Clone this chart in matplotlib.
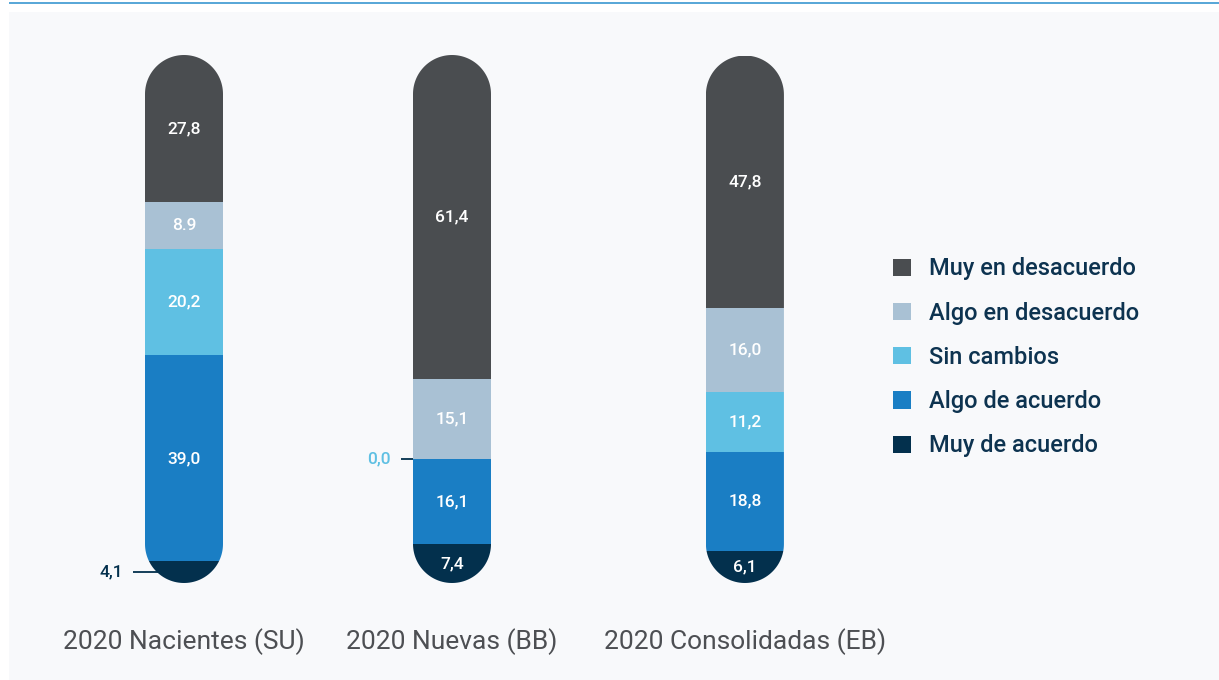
import numpy as np
import matplotlib.pyplot as plt
from matplotlib.patches import PathPatch, Rectangle, Patch
from matplotlib.path import Path

plt.rcParams['font.family'] = ['Roboto', 'DejaVu Sans']

categories = ["2020 Nacientes (SU)", "2020 Nuevas (BB)", "2020 Consolidadas (EB)"]
series = ["Muy de acuerdo", "Algo de acuerdo", "Sin cambios",
          "Algo en desacuerdo", "Muy en desacuerdo"]
muy_de_acuerdo = [4.1, 7.4, 6.1]
algo_de_acuerdo = [39.0, 16.1, 18.8]
sin_cambios = [20.2, 0.0, 11.2]
algo_en_desacuerdo = [8.9, 15.1, 16.0]
muy_en_desacuerdo = [27.8, 61.4, 47.8]

colors = ["#03304d", "#1a7ec4", "#5fc0e3", "#a9c1d4", "#4a4d50"]
values = [muy_de_acuerdo, algo_de_acuerdo, sin_cambios, algo_en_desacuerdo, muy_en_desacuerdo]

# one label in the source keeps a decimal point instead of a comma
label_override = {(3, 0): "8.9"}

W, H = 1219, 680
fig = plt.figure(figsize=(W / 100, H / 100), dpi=100)
fig.patch.set_facecolor("white")
fig.patches.append(Rectangle((9 / W, 0), 1 - 9 / W, 1 - 12 / H, transform=fig.transFigure,
                             facecolor="#f8f9fb", edgecolor="none", zorder=-10))
fig.patches.append(Rectangle((9 / W, 1 - 4 / H), 1 - 9 / W, 2 / H, transform=fig.transFigure,
                             facecolor="#5aa8d8", edgecolor="none", zorder=-9))

# axes placed so 0..100 spans the bar height
ax_l, ax_r = 100, 850
ax_b, ax_t = 583, 55
ax = fig.add_axes([ax_l / W, (H - ax_b) / H, (ax_r - ax_l) / W, (ax_b - ax_t) / H])
ax.set_facecolor("none")
unit = 268.0
xpos = [0, 1, 2.093]
ax.set_xlim((ax_l - 184) / unit, (ax_r - 184) / unit)
ax.set_ylim(0, 100)
ax.axis("off")

width = 78 / unit
px_y = (ax_b - ax_t) / 100.0
rx = width / 2
ry = 39 / px_y


def pill_path(x, top):
    # capsule outline with true circular ends
    t1 = np.linspace(np.pi, 2 * np.pi, 60)
    t2 = np.linspace(0, np.pi, 60)
    xs = np.concatenate([x + rx * np.cos(t1), x + rx * np.cos(t2)])
    ys = np.concatenate([ry + ry * np.sin(t1), top - ry + ry * np.sin(t2)])
    verts = np.column_stack([np.append(xs, xs[0]), np.append(ys, ys[0])])
    codes = [Path.MOVETO] + [Path.LINETO] * (len(verts) - 2) + [Path.CLOSEPOLY]
    return Path(verts, codes)


lab_fs = 12.5
for i, x in enumerate(xpos):
    total = sum(v[i] for v in values)
    pill = PathPatch(pill_path(x, total), transform=ax.transData)
    edge = x - width / 2
    bottom = 0
    for s, vals in enumerate(values):
        v = vals[i]
        bars = ax.bar(x, v, width, bottom=bottom, color=colors[s], linewidth=0, zorder=1)
        for b in bars:
            b.set_clip_path(pill)
        txt = label_override.get((s, i), f"{v:.1f}".replace(".", ","))
        mid = bottom + v / 2
        if v < 5:
            ax.plot([edge - 12 / unit, edge + 14 / unit], [mid, mid],
                    color="#03304d", lw=1.3, solid_capstyle="butt", zorder=0.5)
            ax.text(edge - 22 / unit, mid, txt, ha="right", va="center",
                    fontsize=lab_fs, fontweight="medium", color=colors[s])
        else:
            ax.text(x, mid, txt, ha="center", va="center", fontsize=lab_fs,
                    fontweight="medium", color="white", zorder=3)
        bottom += v

for x, c in zip(xpos, categories):
    ax.text(x, -11, c, ha="center", va="center", fontsize=19, color="#4d4f53")

handles = [Patch(facecolor=colors[s], edgecolor="none", label=series[s]) for s in range(4, -1, -1)]
fig.legend(handles=handles, loc="upper left", bbox_to_anchor=(884 / W, 1 - 248 / H),
           frameon=False, prop={"size": 17, "weight": "medium"}, handlelength=0.75,
           handleheight=0.75, handletextpad=0.75, labelspacing=0.9,
           labelcolor="#0d3350", borderaxespad=0)

fig.savefig("out.png", dpi=100, facecolor=fig.get_facecolor())
